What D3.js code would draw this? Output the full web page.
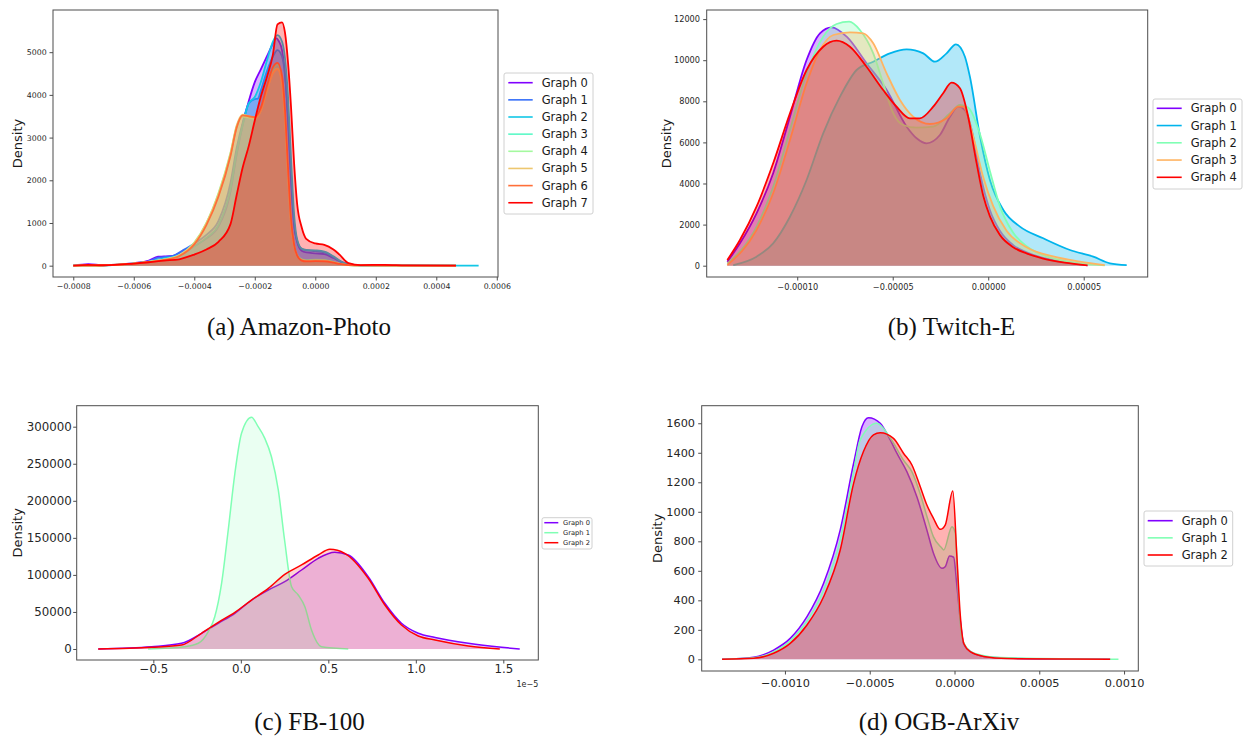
<!DOCTYPE html>
<html lang="en">
<head>
<meta charset="utf-8">
<title>Density of graph embeddings</title>
<script src="https://cdnjs.cloudflare.com/ajax/libs/d3/7.8.5/d3.min.js"></script>
<style>
  body { margin: 0; background: #fff; }
  svg { display: block; font-family: "DejaVu Sans", sans-serif; }
  .tick text { fill: #262626; }
  .tick line { stroke: #4d4d4d; }
  .caption { font-family: "Liberation Serif", serif; fill: #111; }
</style>
</head>
<body>
<svg id="chart" width="1243" height="736"></svg>
<script>
// colours (matplotlib "rainbow" colormap sampled per panel)
var rainbow8 = ['#8000ff', '#3770f9', '#12c7e6', '#5bf9c7', '#a4f99f', '#edc76f', '#ff6f39', '#ff0000'];
var rainbow5 = ['#8000ff', '#00b4ec', '#80ffb4', '#ffb462', '#ff0000'];
var rainbow3 = ['#8000ff', '#80ffb4', '#ff0000'];

var captions = ['(a) Amazon-Photo', '(b) Twitch-E', '(c) FB-100', '(d) OGB-ArXiv'];

// tick values
var aXTicks = [-0.0008, -0.0006, -0.0004, -0.0002, 0, 0.0002, 0.0004, 0.0006];
var aYTicks = [0, 1000, 2000, 3000, 4000, 5000];
var bXTicks = [-0.0001, -0.00005, 0, 0.00005];
var bYTicks = [0, 2000, 4000, 6000, 8000, 10000, 12000];
var cXTicks = [-0.5, 0, 0.5, 1.0, 1.5];
var cYTicks = [0, 50000, 100000, 150000, 200000, 250000, 300000];
var dXTicks = [-0.001, -0.0005, 0, 0.0005, 0.001];
var dYTicks = [0, 200, 400, 600, 800, 1000, 1200, 1400, 1600];

// (a) Amazon-Photo : [value, density]
var aGraph0 = [[-8e-4,0],[-7.5e-4,35],[-7e-4,10],[-6e-4,60],[-5.5e-4,120],[-5.2e-4,210],[-5e-4,215],[-4.7e-4,230],[-4.4e-4,330],[-4e-4,460],[-3.6e-4,640],[-3.2e-4,920],[-2.8e-4,1750],[-2.6e-4,2600],[-2.4e-4,3300],[-2.2e-4,3850],[-2e-4,4300],[-1.8e-4,4600],[-1.6e-4,4900],[-1.4e-4,5200],[-1.3e-4,5330],[-1.2e-4,5250],[-1.1e-4,5050],[-1e-4,4500],[-0.9e-4,3400],[-0.8e-4,2000],[-0.7e-4,950],[-0.6e-4,560],[-0.45e-4,350],[-0.3e-4,310],[0,290],[0.3e-4,270],[0.6e-4,180],[0.8e-4,110],[1.1e-4,30],[1.5e-4,10],[2.3e-4,10],[3e-4,5],[4.65e-4,0]];
var aGraph1 = [[-8e-4,0],[-7e-4,10],[-6e-4,50],[-5.5e-4,100],[-5.2e-4,190],[-5e-4,200],[-4.7e-4,230],[-4.4e-4,350],[-4e-4,520],[-3.6e-4,720],[-3.2e-4,1050],[-2.8e-4,1950],[-2.6e-4,2750],[-2.4e-4,3350],[-2.2e-4,3800],[-2e-4,3900],[-1.9e-4,3910],[-1.8e-4,4100],[-1.6e-4,4550],[-1.4e-4,4900],[-1.25e-4,5050],[-1.1e-4,4900],[-1e-4,4450],[-0.9e-4,3500],[-0.8e-4,2150],[-0.7e-4,1000],[-0.6e-4,580],[-0.45e-4,390],[-0.3e-4,360],[0,340],[0.3e-4,310],[0.6e-4,200],[0.8e-4,110],[1.1e-4,30],[1.5e-4,10],[3e-4,5],[4.65e-4,0]];
var aGraph2 = [[-8e-4,0],[-7e-4,10],[-6e-4,50],[-5.5e-4,90],[-5e-4,170],[-4.7e-4,200],[-4.4e-4,280],[-4e-4,450],[-3.6e-4,650],[-3.2e-4,950],[-2.8e-4,1800],[-2.6e-4,2650],[-2.4e-4,3300],[-2.2e-4,3800],[-2e-4,3950],[-1.8e-4,4300],[-1.6e-4,4800],[-1.4e-4,5250],[-1.25e-4,5400],[-1.1e-4,5250],[-1e-4,4850],[-0.9e-4,3950],[-0.8e-4,2500],[-0.7e-4,1200],[-0.6e-4,620],[-0.45e-4,400],[-0.3e-4,370],[0,360],[0.3e-4,330],[0.6e-4,220],[0.8e-4,120],[1.1e-4,30],[1.5e-4,10],[3e-4,5],[4.6e-4,2],[5.4e-4,0]];
var aGraph3 = [[-8e-4,0],[-7e-4,10],[-6e-4,50],[-5.5e-4,90],[-5e-4,140],[-4.5e-4,230],[-4e-4,520],[-3.6e-4,980],[-3.2e-4,1650],[-2.8e-4,2600],[-2.6e-4,3250],[-2.4e-4,3500],[-2.2e-4,3480],[-2e-4,3450],[-1.8e-4,3650],[-1.6e-4,4150],[-1.4e-4,4580],[-1.25e-4,4700],[-1.1e-4,4350],[-1e-4,3500],[-0.9e-4,2150],[-0.8e-4,1000],[-0.7e-4,480],[-0.6e-4,250],[-0.45e-4,150],[-0.3e-4,130],[0,140],[0.3e-4,135],[0.6e-4,90],[0.8e-4,50],[1.1e-4,15],[1.5e-4,5],[3e-4,3],[4.65e-4,0]];
var aGraph4 = [[-8e-4,0],[-7e-4,10],[-6e-4,55],[-5.5e-4,95],[-5e-4,150],[-4.5e-4,250],[-4e-4,540],[-3.6e-4,1000],[-3.2e-4,1700],[-2.8e-4,2650],[-2.6e-4,3250],[-2.4e-4,3490],[-2.2e-4,3470],[-2e-4,3440],[-1.8e-4,3620],[-1.6e-4,4100],[-1.4e-4,4520],[-1.25e-4,4620],[-1.1e-4,4300],[-1e-4,3450],[-0.9e-4,2100],[-0.8e-4,980],[-0.7e-4,470],[-0.6e-4,240],[-0.45e-4,140],[-0.3e-4,120],[0,130],[0.3e-4,125],[0.6e-4,85],[0.8e-4,45],[1.1e-4,15],[1.5e-4,5],[3e-4,3],[4.65e-4,0]];
var aGraph5 = [[-8e-4,0],[-7e-4,10],[-6e-4,50],[-5.5e-4,90],[-5e-4,140],[-4.5e-4,240],[-4e-4,530],[-3.6e-4,990],[-3.2e-4,1680],[-2.8e-4,2640],[-2.6e-4,3280],[-2.4e-4,3540],[-2.2e-4,3500],[-2e-4,3460],[-1.8e-4,3630],[-1.6e-4,4100],[-1.4e-4,4500],[-1.25e-4,4600],[-1.1e-4,4270],[-1e-4,3420],[-0.9e-4,2080],[-0.8e-4,960],[-0.7e-4,460],[-0.6e-4,230],[-0.45e-4,130],[-0.3e-4,110],[0,120],[0.3e-4,115],[0.6e-4,80],[0.8e-4,45],[1.1e-4,15],[1.5e-4,5],[3e-4,3],[4.65e-4,0]];
var aGraph6 = [[-8e-4,0],[-7e-4,10],[-6e-4,50],[-5.5e-4,85],[-5e-4,135],[-4.5e-4,225],[-4e-4,500],[-3.6e-4,950],[-3.2e-4,1620],[-2.8e-4,2580],[-2.6e-4,3230],[-2.4e-4,3520],[-2.2e-4,3500],[-2e-4,3480],[-1.8e-4,3700],[-1.6e-4,4200],[-1.4e-4,4650],[-1.25e-4,4750],[-1.1e-4,4450],[-1e-4,3650],[-0.9e-4,2300],[-0.8e-4,1100],[-0.7e-4,500],[-0.6e-4,240],[-0.45e-4,120],[-0.3e-4,100],[0,105],[0.3e-4,100],[0.6e-4,70],[0.8e-4,40],[1.1e-4,12],[1.5e-4,5],[3e-4,3],[4.65e-4,0]];
var aGraph7 = [[-8e-4,0],[-7.5e-4,20],[-7e-4,10],[-6e-4,50],[-5.5e-4,80],[-5e-4,120],[-4.5e-4,150],[-4e-4,260],[-3.6e-4,380],[-3.2e-4,560],[-2.8e-4,980],[-2.6e-4,1650],[-2.4e-4,2300],[-2.2e-4,2800],[-2e-4,3400],[-1.8e-4,3960],[-1.6e-4,4420],[-1.4e-4,4950],[-1.25e-4,5650],[-1.1e-4,5700],[-1e-4,5450],[-0.9e-4,4750],[-0.8e-4,3700],[-0.7e-4,2400],[-0.6e-4,1450],[-0.45e-4,900],[-0.3e-4,630],[0,520],[0.3e-4,490],[0.6e-4,380],[0.8e-4,260],[1.1e-4,60],[1.5e-4,15],[2.3e-4,20],[3e-4,5],[4.65e-4,0]];

// (b) Twitch-E
var bGraph0 = [[-13.66e-5,195],[-13e-5,1090],[-12.13e-5,2550],[-11.26e-5,4500],[-10.38e-5,7250],[-9.51e-5,10010],[-8.81e-5,11310],[-8.2e-5,11600],[-7.41e-5,11143],[-6.37e-5,9850],[-5.32e-5,8550],[-4.27e-5,6764],[-3.75e-5,6200],[-3.23e-5,5956],[-2.53e-5,6360],[-2e-5,7250],[-1.57e-5,7737],[-1.22e-5,7577],[-0.79e-5,6300],[-0.43e-5,4500],[0.09e-5,2700],[0.61e-5,1700],[1.31e-5,1000],[2.01e-5,650],[2.88e-5,380],[4e-5,180],[5.2e-5,20]];
var bGraph1 = [[-13.35e-5,30],[-12.13e-5,440],[-11.26e-5,1090],[-10.38e-5,2384],[-9.51e-5,4170],[-8.64e-5,6443],[-7.76e-5,8224],[-6.89e-5,9523],[-6.02e-5,9927],[-5.15e-5,10335],[-4.27e-5,10530],[-3.4e-5,10335],[-2.79e-5,9927],[-2.18e-5,10335],[-1.69e-5,10773],[-1.22e-5,10170],[-0.96e-5,9200],[-0.43e-5,6300],[0.09e-5,4170],[0.79e-5,2710],[1.66e-5,1900],[2.88e-5,1333],[4.28e-5,764],[5.5e-5,438],[6.37e-5,117],[7.25e-5,30]];
var bGraph2 = [[-13.66e-5,100],[-12.13e-5,1898],[-11.26e-5,3844],[-10.38e-5,6603],[-9.51e-5,9362],[-8.64e-5,11143],[-7.94e-5,11761],[-7.28e-5,11873],[-6.72e-5,11469],[-6.02e-5,10335],[-5.5e-5,8875],[-4.97e-5,7416],[-4.45e-5,6846],[-3.75e-5,6716],[-2.88e-5,6764],[-2e-5,7416],[-1.48e-5,7820],[-1.05e-5,7700],[-0.43e-5,6400],[0.09e-5,4600],[0.61e-5,2900],[1.31e-5,1600],[2.01e-5,950],[3.06e-5,450],[4.5e-5,150],[6.1e-5,20]];
var bGraph3 = [[-13.66e-5,30],[-12.13e-5,1737],[-11.26e-5,3523],[-10.38e-5,6117],[-9.51e-5,8875],[-8.81e-5,10496],[-8.11e-5,11226],[-7.24e-5,11357],[-6.54e-5,11308],[-6.02e-5,10822],[-5.32e-5,9362],[-4.62e-5,8063],[-3.93e-5,7250],[-3.05e-5,6895],[-2.18e-5,7172],[-1.57e-5,7737],[-1.31e-5,7737],[-0.79e-5,6300],[-0.26e-5,4300],[0.26e-5,2900],[0.96e-5,1700],[2.01e-5,900],[3.4e-5,450],[4.8e-5,200],[6.1e-5,30]];
var bGraph4 = [[-13.66e-5,277],[-13e-5,1250],[-12.13e-5,2871],[-11.26e-5,4983],[-10.38e-5,7416],[-9.51e-5,9523],[-8.64e-5,10657],[-7.94e-5,10950],[-7.24e-5,10657],[-6.37e-5,9684],[-5.5e-5,8550],[-4.8e-5,7737],[-4.1e-5,7172],[-3.58e-5,7172],[-2.88e-5,7737],[-2.36e-5,8390],[-1.92e-5,8905],[-1.48e-5,8632],[-1.05e-5,7250],[-0.61e-5,5000],[-0.26e-5,3400],[0.09e-5,2400],[0.61e-5,1500],[1.31e-5,900],[2.01e-5,600],[2.88e-5,350],[4e-5,150],[5.2e-5,20]];

// (c) FB-100 (values in units of 1e-5)
var cGraph0 = [[-0.815,0],[-0.51,3100],[-0.339,7700],[-0.225,21200],[-0.129,34700],[-0.034,48200],[0.061,66100],[0.157,79600],[0.251,90800],[0.347,106600],[0.442,122400],[0.537,130500],[0.614,126900],[0.728,97600],[0.823,61700],[0.918,34700],[1.014,21200],[1.11,15500],[1.30,7700],[1.49,2300],[1.594,0]];
var cGraph1 = [[-0.53,0],[-0.32,3100],[-0.243,7700],[-0.186,23400],[-0.149,43600],[-0.11,88660],[-0.072,160600],[-0.034,237100],[0.004,291100],[0.061,312700],[0.099,300000],[0.137,284300],[0.175,259500],[0.214,214600],[0.25,147100],[0.29,84100],[0.328,72900],[0.366,57100],[0.404,25600],[0.461,3100],[0.614,0]];
var cGraph2 = [[-0.815,0],[-0.51,2300],[-0.339,5400],[-0.225,21200],[-0.129,36000],[-0.034,49500],[0.061,66100],[0.157,81800],[0.251,100800],[0.347,113400],[0.442,126900],[0.509,134500],[0.594,129100],[0.728,95400],[0.823,59400],[0.918,32400],[1.014,17500],[1.11,12100],[1.30,4000],[1.48,0]];

// (d) OGB-ArXiv
var dGraph0 = [[-13.71e-4,0],[-11.85e-4,14],[-10.67e-4,63],[-9.69e-4,142],[-8.7e-4,289],[-7.72e-4,515],[-6.74e-4,877],[-5.95e-4,1329],[-5.46e-4,1577],[-5.07e-4,1638],[-4.38e-4,1600],[-3.79e-4,1487],[-3.4e-4,1397],[-2.81e-4,1272],[-2.22e-4,1102],[-1.63e-4,877],[-1.24e-4,719],[-0.74e-4,617],[-0.55e-4,628],[-0.29e-4,700],[-0.05e-4,692],[0.14e-4,500],[0.34e-4,266],[0.53e-4,108],[0.83e-4,63],[1.52e-4,25],[2.7e-4,10],[5e-4,3],[9.18e-4,0]];
var dGraph1 = [[-13.71e-4,0],[-11.85e-4,10],[-10.67e-4,50],[-9.69e-4,125],[-8.7e-4,260],[-7.72e-4,470],[-6.74e-4,810],[-5.95e-4,1270],[-5.56e-4,1487],[-4.58e-4,1600],[-3.79e-4,1500],[-3.01e-4,1350],[-2.51e-4,1270],[-2.02e-4,1120],[-1.63e-4,970],[-1.24e-4,830],[-0.74e-4,753],[-0.64e-4,741],[-0.15e-4,899],[0.05e-4,854],[0.24e-4,420],[0.43e-4,150],[0.83e-4,65],[1.52e-4,30],[2.7e-4,12],[9.67e-4,0]];
var dGraph2 = [[-13.71e-4,0],[-11.85e-4,7],[-10.67e-4,41],[-9.69e-4,108],[-8.7e-4,233],[-7.72e-4,424],[-6.74e-4,741],[-5.95e-4,1193],[-5.37e-4,1408],[-4.78e-4,1521],[-4.38e-4,1536],[-3.6e-4,1498],[-3.01e-4,1397],[-2.51e-4,1317],[-2.02e-4,1170],[-1.63e-4,1046],[-1.24e-4,956],[-0.84e-4,881],[-0.55e-4,910],[-0.1e-4,1141],[0.14e-4,700],[0.34e-4,300],[0.55e-4,108],[0.93e-4,52],[1.72e-4,20],[3.1e-4,5],[9.18e-4,0]];

var svg = d3.select("#chart");

function drawPanel(p) {
  var x = d3.scaleLinear().domain(p.xDomain).range([p.left, p.right]);
  var y = d3.scaleLinear().domain(p.yDomain).range([p.bottom, p.top]);
  var g = svg.append("g");

  var area = d3.area()
    .x(function(d) { return x(d[0]); })
    .y0(y(0))
    .y1(function(d) { return y(d[1]); })
    .curve(d3.curveMonotoneX);
  var line = d3.line()
    .x(function(d) { return x(d[0]); })
    .y(function(d) { return y(d[1]); })
    .curve(d3.curveMonotoneX);

  // each kde: fill then edge, so later fills tint earlier lines
  p.series.forEach(function(s, i) {
    g.append("path").attr("d", area(s)).attr("fill", p.colors[i]).attr("fill-opacity", p.alpha);
    g.append("path").attr("d", line(s)).attr("fill", "none")
      .attr("stroke", p.colors[i]).attr("stroke-width", p.lw).attr("stroke-linejoin", "round");
  });

  var xa = g.append("g").attr("transform", "translate(0," + p.bottom + ")")
    .call(d3.axisBottom(x).tickValues(p.xTicks).tickFormat(p.xFmt).tickSize(3.5).tickPadding(p.xPad));
  var ya = g.append("g").attr("transform", "translate(" + p.left + ",0)")
    .call(d3.axisLeft(y).tickValues(p.yTicks).tickFormat(d3.format("d")).tickSize(3.5).tickPadding(p.yPad));
  [xa, ya].forEach(function(a) {
    a.select(".domain").remove();
    a.selectAll("text").style("font-size", p.tickFont + "px").style("font-family", "DejaVu Sans");
  });

  g.append("rect")
    .attr("x", p.left).attr("y", p.top)
    .attr("width", p.right - p.left).attr("height", p.bottom - p.top)
    .attr("fill", "none").attr("stroke", "#4d4d4d").attr("stroke-width", 1);

  g.append("text")
    .attr("transform", "translate(" + p.ylabX + "," + ((p.top + p.bottom) / 2) + ") rotate(-90)")
    .attr("text-anchor", "middle").attr("dominant-baseline", "central")
    .style("font-size", "13px").attr("fill", "#1a1a1a")
    .text("Density");

  // legend
  var L = p.legend;
  var lg = g.append("g");
  lg.append("rect").attr("x", L.x).attr("y", L.y).attr("width", L.w).attr("height", L.h)
    .attr("rx", 2).attr("fill", "#fff").attr("stroke", "#d0d0d0");
  p.colors.forEach(function(c, i) {
    var yy = L.y0 + i * L.step;
    lg.append("line").attr("x1", L.hx0).attr("x2", L.hx1).attr("y1", yy).attr("y2", yy)
      .attr("stroke", c).attr("stroke-width", L.lw);
    lg.append("text").attr("x", L.tx).attr("y", yy).attr("dominant-baseline", "central")
      .style("font-size", L.font + "px").attr("fill", "#1a1a1a")
      .text("Graph " + i);
  });

  svg.append("text").attr("class", "caption")
    .attr("x", p.capX).attr("y", p.capY).attr("text-anchor", "middle")
    .style("font-size", "25px").text(p.caption);
  return { x: x, y: y };
}

drawPanel({
  left: 53, right: 498, top: 10, bottom: 277,
  xDomain: [-0.000867, 0.000604], yDomain: [-265, 5988],
  xTicks: aXTicks, yTicks: aYTicks, xFmt: d3.format(".4f"),
  tickFont: 7.8, xPad: 3.4, yPad: 2.8, lw: 1.8, alpha: 0.3, ylabX: 17,
  series: [aGraph0, aGraph1, aGraph2, aGraph3, aGraph4, aGraph5, aGraph6, aGraph7],
  colors: rainbow8,
  legend: { x: 504, y: 73, w: 89, h: 141, y0: 82.7, step: 17.15, hx0: 508.3, hx1: 532.7, tx: 541.7, font: 11.5, lw: 1.6 },
  caption: captions[0], capX: 299, capY: 335
});

drawPanel({
  left: 706.7, right: 1147.7, top: 10, bottom: 277,
  xDomain: [-0.0001474, 0.0000835], yDomain: [-550, 12443],
  xTicks: bXTicks, yTicks: bYTicks, xFmt: d3.format(".5f"),
  tickFont: 8.2, xPad: 3.4, yPad: 3.2, lw: 1.8, alpha: 0.3, ylabX: 666,
  series: [bGraph0, bGraph1, bGraph2, bGraph3, bGraph4],
  colors: rainbow5,
  legend: { x: 1153, y: 99, w: 89, h: 90, y0: 108.3, step: 17.25, hx0: 1156.7, hx1: 1181.7, tx: 1190.7, font: 11.5, lw: 1.6 },
  caption: captions[1], capX: 951.5, capY: 335
});

drawPanel({
  left: 76.7, right: 538.3, top: 405.7, bottom: 660,
  xDomain: [-0.938, 1.70], yDomain: [-14845, 328340],
  xTicks: cXTicks, yTicks: cYTicks, xFmt: d3.format(".1f"),
  tickFont: 11.8, xPad: 1.5, yPad: 1.5, lw: 1.5, alpha: 0.17, ylabX: 17,
  series: [cGraph0, cGraph1, cGraph2],
  colors: rainbow3,
  legend: { x: 542, y: 517.7, w: 50, h: 31.3, y0: 522.7, step: 10, hx0: 544.3, hx1: 558.3, tx: 563, font: 6.7, lw: 1.5 },
  caption: captions[2], capX: 309.5, capY: 730
});

// scale factor of the FB-100 axis
svg.append("text").attr("x", 538.3).attr("y", 687).attr("text-anchor", "end")
  .style("font-size", "8px").attr("fill", "#262626").text("1e\u22125");

drawPanel({
  left: 701.7, right: 1138.3, top: 405.7, bottom: 671,
  xDomain: [-0.001491, 0.001084], yDomain: [-79, 1719],
  xTicks: dXTicks, yTicks: dYTicks, xFmt: d3.format(".4f"),
  tickFont: 11.3, xPad: 4.4, yPad: 3.2, lw: 1.5, alpha: 0.3, ylabX: 657,
  series: [dGraph0, dGraph1, dGraph2],
  colors: rainbow3,
  legend: { x: 1144, y: 511, w: 88.7, h: 55, y0: 520.7, step: 17.15, hx0: 1147.7, hx1: 1172.7, tx: 1181.7, font: 11.5, lw: 1.6 },
  caption: captions[3], capX: 939, capY: 730
});
</script>
</body>
</html>
